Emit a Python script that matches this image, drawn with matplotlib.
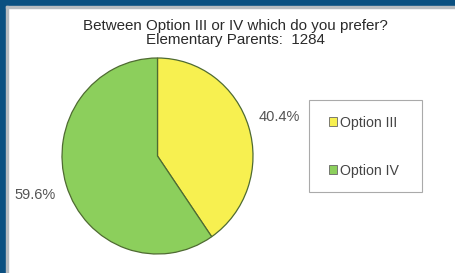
import matplotlib
matplotlib.use("Agg")
import matplotlib.pyplot as plt
from matplotlib.patches import Rectangle, Patch

categories = ["Option III", "Option IV"]
values = [40.4, 59.6]
colors = ["#f7f050", "#8ccf5c"]
title = "Between Option III or IV which do you prefer?\nElementary Parents:  1284"

plt.rcParams['font.family'] = ['Liberation Sans', 'DejaVu Sans']

W, H = 455, 273
fig = plt.figure(figsize=(W/100, H/100), dpi=100)
fig.patch.set_facecolor("white")

# frame
blue = "#0b5081"
fig.patches.append(Rectangle((0, 1 - 6/H), 1, 6/H, transform=fig.transFigure, color=blue, zorder=0))
fig.patches.append(Rectangle((0, 0), 6/W, 1, transform=fig.transFigure, color=blue, zorder=0))
fig.patches.append(Rectangle((6/W, 0), 1.5/W, 1 - 6/H, transform=fig.transFigure, color="#b8bcc0", zorder=0))
fig.patches.append(Rectangle((6/W, 1 - 7.5/H), 1 - 6/W, 1.5/H, transform=fig.transFigure, color="#b8bcc0", zorder=0))

cx, cy, rx, ry = 157.5, 156, 95.5, 98
ax = fig.add_axes([(cx - rx)/W, (H - cy - ry)/H, 2*rx/W, 2*ry/H])
wedges, texts, autotexts = ax.pie(values, colors=colors, startangle=90, counterclock=False,
       autopct="%.1f%%", pctdistance=1.34, radius=1,
       wedgeprops=dict(edgecolor="#4f6b32", linewidth=0.9),
       textprops=dict(fontsize=10.5, color="#555555"))
ax.set_xlim(-1, 1)
ax.set_ylim(-1, 1)
ax.set_aspect("auto")
ax.axis("off")

fig.text(235/W, 1 - 33/H, title, ha="center", va="center", fontsize=10.9,
         color="#2a2a2a", linespacing=0.98)

# legend frame
fig.patches.append(Rectangle((309/W, (H - 192)/H), 113/W, 92/H, transform=fig.transFigure,
                             facecolor="white", edgecolor="#aaaaaa", linewidth=0.8, zorder=1))

handles = [Patch(facecolor=c, edgecolor="#666666", linewidth=0.6) for c in colors]
leg = fig.legend(handles, categories, loc="center", bbox_to_anchor=(364/W, 1 - 146.5/H),
                 frameon=False, fontsize=10.2, labelspacing=2.4, handlelength=0.55, handleheight=0.55,
                 handletextpad=0.2, borderpad=1.05, labelcolor="#444444")

fig.savefig("out.png", dpi=100, facecolor="white")
